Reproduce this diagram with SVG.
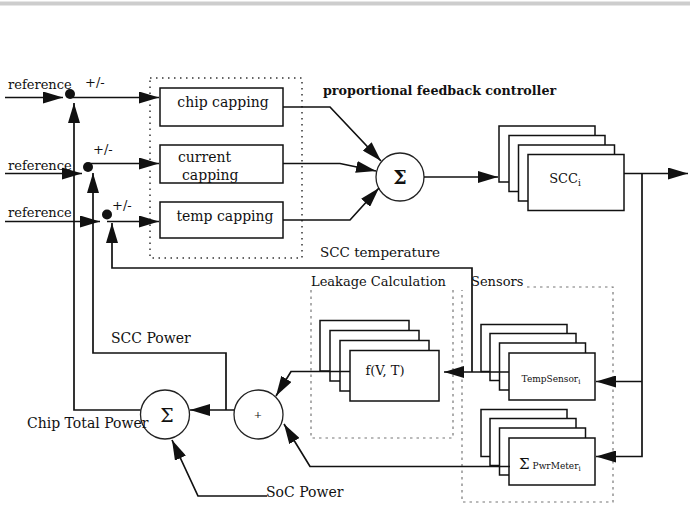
<svg xmlns="http://www.w3.org/2000/svg" width="690" height="511" viewBox="0 0 690 511">
<style>
text{font-family:"DejaVu Serif","Liberation Serif",serif;fill:#111;font-size:13px}
.box{fill:#fff;stroke:#111;stroke-width:1.5}
.circ{fill:#fff;stroke:#222;stroke-width:1.3}
.dot{fill:none;stroke:#333;stroke-width:1.5;stroke-dasharray:1.5,4.5}
.dash{fill:none;stroke:#777;stroke-width:1.2;stroke-dasharray:2.5,4}
.c{fill:none;stroke:#111;stroke-width:1.7;marker-end:url(#ah)}
.mid{text-anchor:middle}
.lg{font-size:14px}
.sm{font-size:9px}
</style>
<defs>
<marker id="ah" markerUnits="userSpaceOnUse" markerWidth="20" markerHeight="12" refX="20" refY="6" orient="auto"><path d="M0,0 L20,6 L0,12 z" fill="#111"/></marker>
</defs>
<rect x="0" y="1.5" width="690" height="4" fill="#cdcdcd"/>

<g id="capping-group">
<rect class="dot" x="150" y="78" width="152" height="180"/>
</g>
<g id="leakage-group">
<path class="dash" d="M311,290 V438 H453 V290"/>
<text x="311" y="286">Leakage Calculation</text>
</g>
<g id="sensors-group">
<path class="dash" d="M527,287 H613 V502 H462 V290"/>
<text x="471" y="286">Sensors</text>
</g>

<g id="ref1"><text x="8" y="89">reference</text><text x="85" y="87">+/-</text><circle cx="70" cy="94" r="5" fill="#111"/></g>
<g id="ref2"><text x="8" y="170">reference</text><text x="93" y="154">+/-</text><circle cx="88" cy="167" r="5" fill="#111"/></g>
<g id="ref3"><text x="8" y="217">reference</text><text x="112" y="210">+/-</text><circle cx="107" cy="214.5" r="5" fill="#111"/></g>

<g id="chip-capping"><rect class="box" x="160" y="88" width="123" height="38"/><text class="mid lg" x="223" y="107">chip capping</text></g>
<g id="current-capping"><rect class="box" x="160" y="145" width="123" height="38"/><text class="lg" x="178" y="162">current</text><text class="lg" x="182" y="180">capping</text></g>
<g id="temp-capping"><rect class="box" x="160" y="202" width="123" height="36"/><text class="mid lg" x="225" y="221">temp capping</text></g>

<g id="sum-top"><circle class="circ" cx="400" cy="177" r="24"/><text class="mid" x="400" y="184" style="font-size:19px;font-weight:bold">Σ</text></g>
<text x="323" y="95" style="font-weight:bold;font-size:12.7px">proportional feedback controller</text>

<g id="scc">
<rect class="box" x="499" y="126" width="96" height="56"/>
<rect class="box" x="509" y="135.5" width="96" height="56"/>
<rect class="box" x="518.5" y="145" width="96" height="56"/>
<rect class="box" x="528" y="154.5" width="96" height="56"/>
<text class="mid" x="565" y="183">SCC<tspan class="sm" dy="3">i</tspan></text>
</g>

<g id="fvt">
<rect class="box" x="320" y="320.5" width="89" height="50.5"/>
<rect class="box" x="330" y="330.5" width="89" height="50.5"/>
<rect class="box" x="340" y="340.5" width="89" height="50.5"/>
<rect class="box" x="350" y="350.5" width="89" height="50.5"/>
<text class="mid" x="385" y="375">f(V, T)</text>
</g>

<g id="tempsensor">
<rect class="box" x="481" y="324.5" width="86" height="47"/>
<rect class="box" x="490" y="333.5" width="86" height="47"/>
<rect class="box" x="499.5" y="343" width="86" height="47"/>
<rect class="box" x="509" y="353" width="86" height="47"/>
<text class="mid sm" x="551" y="382">TempSensor<tspan style="font-size:7px" dy="2">i</tspan></text>
</g>

<g id="pwrmeter">
<rect class="box" x="481" y="409.5" width="86" height="47"/>
<rect class="box" x="490" y="418.5" width="86" height="47"/>
<rect class="box" x="499.5" y="428" width="86" height="47"/>
<rect class="box" x="509" y="438" width="86" height="47"/>
<text x="519" y="469"><tspan style="font-size:15px">Σ</tspan><tspan class="sm" dx="3">PwrMeter</tspan><tspan style="font-size:7px" dy="2">i</tspan></text>
</g>

<g id="sum-bottom"><circle class="circ" cx="165" cy="414.5" r="24.5"/><text class="mid" x="167" y="422" style="font-size:19px">Σ</text></g>
<g id="plus"><circle class="circ" cx="258.5" cy="414.5" r="24.5"/><text class="mid" x="258" y="418" style="font-size:10px">+</text></g>

<text class="lg" x="27" y="428">Chip Total Power</text>
<text class="lg" x="111" y="343">SCC Power</text>
<text x="320" y="257" style="font-size:13.5px">SCC temperature</text>
<text class="lg" x="266" y="497">SoC Power</text>

<g id="connectors">
<path class="c" d="M5,97.5 H63"/>
<path class="c" d="M70,97.5 H159"/>
<path class="c" d="M5,173.5 H82"/>
<path class="c" d="M88,163.5 H159"/>
<path class="c" d="M5,221.5 H100"/>
<path class="c" d="M107,221.5 H159"/>
<path class="c" d="M140.5,410 H74 V103"/>
<path class="c" d="M234,410 H190"/>
<path class="c" d="M226,410 V353 H93 V173"/>
<path class="c" d="M509,372 H444"/>
<path class="c" d="M472,372 V268 H112 V223"/>
<path class="c" d="M350,371.5 H291 L276,396"/>
<path class="c" d="M510,466.5 H310 L284,424"/>
<path class="c" d="M267,496 H198 L172,440"/>
<path class="c" d="M283,107 H330 L381,161"/>
<path class="c" d="M283,163.5 H340 L376,171"/>
<path class="c" d="M283,220 H350 L379,188"/>
<path class="c" d="M424,177 H498"/>
<path class="c" d="M624,173.5 H688"/>
<path class="c" d="M642,173.5 V456.5 H596"/>
<path class="c" d="M642,381.5 H596"/>
</g>
</svg>
